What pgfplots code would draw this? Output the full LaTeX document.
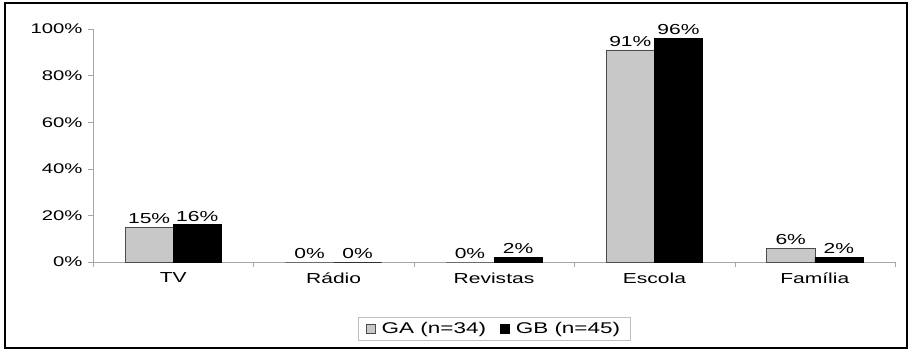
\documentclass[border=0pt]{standalone}
\usepackage{pgfplots}
\pgfplotsset{compat=1.18}
\usepackage{fontspec}
\setmainfont{Liberation Sans}[FakeStretch=1.45]
\definecolor{gaGray}{RGB}{200,200,200}
\pgfplotsset{sqlegend/.style={legend image code/.code={\draw[##1,line width=0.8bp] (0bp,-4.5bp) rectangle (9bp,4.5bp);}}}
\begin{document}
\begin{tikzpicture}[x=1bp,y=1bp]
\useasboundingbox (0,0) rectangle (913,352);
\draw[line width=1.6bp] (5,4) rectangle (907,349);
\begin{axis}[
  at={(93bp,90bp)}, anchor=south west,
  scale only axis, width=802bp, height=233bp,
  /pgf/number format/assume math mode=true,
  ybar=0pt, bar width=0.3,
  xmin=-0.5, xmax=4.5, ymin=0, ymax=100,
  axis x line*=bottom, axis y line*=left,
  axis line style={-, draw=gray!70},
  xtick={-0.5,0.5,1.5,2.5,3.5,4.5}, xticklabels={},
  extra x ticks={0,1,2,3,4},
  extra x tick labels={TV,Rádio,Revistas,Escola,Família},
  extra x tick style={major tick length=0pt},
  ytick={0,20,40,60,80,100},
  yticklabels={0\%,20\%,40\%,60\%,80\%,100\%},
  tick align=outside, major tick length=5bp,
  tick style={draw=gray!70},
  x tick label style={font=\fontsize{14.5bp}{16bp}\selectfont, yshift=-7bp},
  y tick label style={font=\fontsize{14bp}{16bp}\selectfont, xshift=-2bp},
  nodes near coords={\pgfmathprintnumber{\pgfplotspointmeta}\%},
  nodes near coords style={font=\fontsize{14.5bp}{16bp}\selectfont, inner sep=3bp},
  legend style={at={(0.5,-0.285)}, anchor=center, legend columns=2,
    draw=gray!50, font=\fontsize{15.5bp}{17bp}\selectfont,
    inner xsep=8bp, inner ysep=3bp,
    /tikz/every even column/.append style={column sep=12bp}},
]
\addplot[fill=gaGray, draw=gray!60!black, line width=0.6bp, sqlegend]
  coordinates {(0,15) (1,0) (2,0) (3,91) (4,6)};
\addplot[fill=black, draw=black, line width=0.6bp, sqlegend]
  coordinates {(0,16) (1,0) (2,2) (3,96) (4,2)};
\legend{\hspace{4bp}GA (n=34), \hspace{4bp}GB (n=45)}
\end{axis}
\end{tikzpicture}
\end{document}
